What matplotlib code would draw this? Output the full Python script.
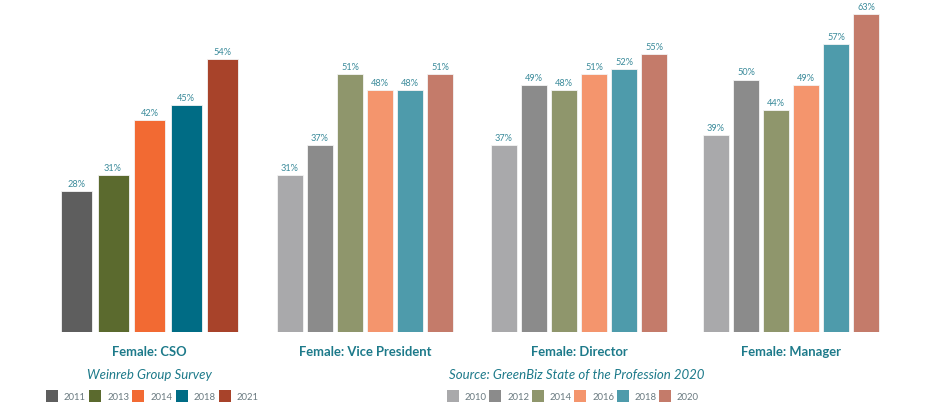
import matplotlib
matplotlib.use("Agg")
import matplotlib.pyplot as plt
from matplotlib.patches import Rectangle

# ---------------- data ----------------
cso_years = ["2011", "2013", "2014", "2018", "2021"]
cso_values = [28, 31, 42, 45, 54]
cso_colors = ["#5e5e5e", "#5b6a2e", "#f26a33", "#006c85", "#a8432a"]

gb_years = ["2010", "2012", "2014", "2016", "2018", "2020"]
vp_values = [31, 37, 51, 48, 48, 51]
director_values = [37, 49, 48, 51, 52, 55]
manager_values = [39, 50, 44, 49, 57, 63]
gb_colors = ["#a9a9ab", "#8b8b8b", "#8f966c", "#f4956d", "#4e9bab", "#c47b6a"]

group_labels = ["Female: CSO", "Female: Vice President", "Female: Director", "Female: Manager"]
cso_title = "Weinreb Group Survey"
gb_title = "Source: GreenBiz State of the Profession 2020"

teal = "#1d7a8a"
label_teal = "#3b8b9b"
FONT = "Lato"

W, H = 936, 414
fig = plt.figure(figsize=(W / 100, H / 100), dpi=100)
fig.patch.set_facecolor("white")

base_px = 333
px_per_pct = 5.05
ax = fig.add_axes([0, (H - base_px) / H, 1, base_px / H])
ax.set_xlim(0, W)
ax.set_ylim(0, base_px / px_per_pct)
ax.axis("off")

groups = [
    (cso_values, cso_colors, 61, 31, 36.5),
    (vp_values, gb_colors, 277, 26, 30),
    (director_values, gb_colors, 491, 26, 30),
    (manager_values, gb_colors, 703, 26, 30),
]
centers = []
for vals, cols, x0, bw, step in groups:
    xs = [x0 + i * step for i in range(len(vals))]
    ax.bar(xs, vals, width=bw, align="edge", color=cols,
           edgecolor="#f4f4f4", linewidth=0.6)
    for x, v in zip(xs, vals):
        ax.text(x + bw / 2, v + 0.6, f"{v}%", ha="center", va="bottom",
                fontsize=6.6, color=label_teal, family=FONT, clip_on=False)
    centers.append((xs[0] + xs[-1] + bw) / 2)

# overlay in pixel coordinates for labels/legends
ov = fig.add_axes([0, 0, 1, 1])
ov.set_xlim(0, W)
ov.set_ylim(H, 0)
ov.axis("off")

for c, lab in zip(centers, group_labels):
    ov.text(c, 352, lab, ha="center", va="center", fontsize=9.4,
            fontweight="bold", color=teal, family=FONT)

ov.text(149, 375, cso_title, ha="center", va="center", fontsize=9.5,
        style="italic", color=teal, family=FONT)
ov.text(577, 375, gb_title, ha="center", va="center", fontsize=9.5,
        style="italic", color=teal, family=FONT)

def legend_row(x0, step, years, cols):
    for i, (yr, c) in enumerate(zip(years, cols)):
        x = x0 + i * step
        ov.add_patch(Rectangle((x, 391), 12, 12, facecolor=c, edgecolor="none"))
        ov.text(x + 18, 397.5, yr, ha="left", va="center", fontsize=6.8,
                color="#6a7a80", family=FONT)

legend_row(46, 43.2, cso_years, cso_colors)
legend_row(447, 42.4, gb_years, gb_colors)

fig.savefig("out.png", dpi=100, facecolor="white")
